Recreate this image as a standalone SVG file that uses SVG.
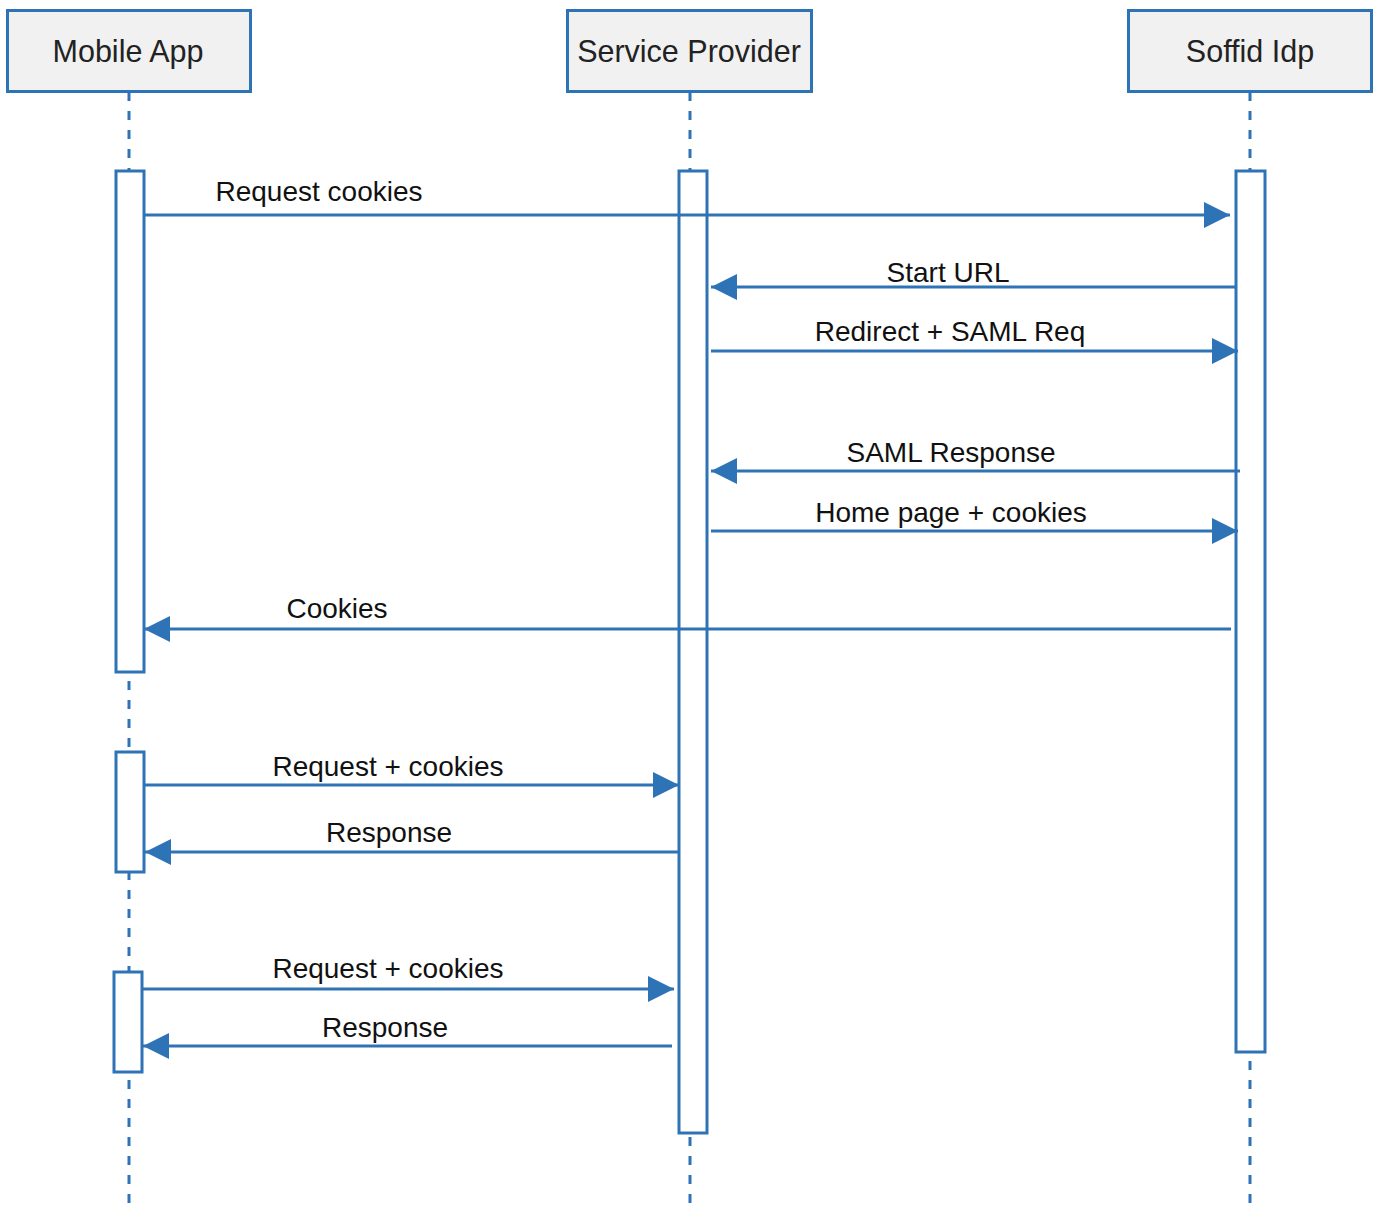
<svg xmlns="http://www.w3.org/2000/svg" width="1377" height="1210" viewBox="0 0 1377 1210">
<style>
.hdr{fill:#f1f1f1;stroke:#2f73b7;stroke-width:3}
.hdrt{font-family:"Liberation Sans",Arial,sans-serif;font-size:30.5px;fill:#222;text-anchor:middle}
.life{stroke:#2f73b7;stroke-width:3;stroke-dasharray:9 10;fill:none}
.act{fill:#fff;stroke:#2f73b7;stroke-width:3}
.msg{stroke:#2f73b7;stroke-width:3;fill:none}
.lbl{font-family:"Liberation Sans",Arial,sans-serif;font-size:28px;fill:#111;text-anchor:middle}
</style>
<defs>
<marker id="ah" markerUnits="userSpaceOnUse" markerWidth="28" markerHeight="26" refX="26" refY="13" orient="auto">
<path d="M0,0 L26,13 L0,26 Z" fill="#2f73b7"/>
</marker>
</defs>
<g id="lifelines">
<line class="life" x1="129" y1="92" x2="129" y2="1210"/>
<line class="life" x1="690" y1="92" x2="690" y2="1210"/>
<line class="life" x1="1250" y1="92" x2="1250" y2="1210"/>
</g>
<g id="mobile-app">
<rect class="hdr" x="7.5" y="10.5" width="243" height="81"/>
<text class="hdrt" x="128" y="62">Mobile App</text>
</g>
<g id="service-provider">
<rect class="hdr" x="567.5" y="10.5" width="244" height="81"/>
<text class="hdrt" x="689" y="62">Service Provider</text>
</g>
<g id="soffid-idp">
<rect class="hdr" x="1128.5" y="10.5" width="243" height="81"/>
<text class="hdrt" x="1250" y="62">Soffid Idp</text>
</g>
<g id="activations">
<rect id="act-mobile-1" class="act" x="116" y="171" width="28" height="501"/>
<rect id="act-mobile-2" class="act" x="116" y="752" width="28" height="120"/>
<rect id="act-mobile-3" class="act" x="114" y="972" width="28" height="100"/>
<rect id="act-sp" class="act" x="679" y="171" width="28" height="962"/>
<rect id="act-idp" class="act" x="1236" y="171" width="29" height="881"/>
</g>
<g id="connectors">
<line class="msg" x1="144" y1="215" x2="1230" y2="215" marker-end="url(#ah)"/>
<line class="msg" x1="1236" y1="287" x2="711" y2="287" marker-end="url(#ah)"/>
<line class="msg" x1="711" y1="351" x2="1238" y2="351" marker-end="url(#ah)"/>
<line class="msg" x1="1240" y1="471" x2="711" y2="471" marker-end="url(#ah)"/>
<line class="msg" x1="711" y1="531" x2="1238" y2="531" marker-end="url(#ah)"/>
<line class="msg" x1="1231" y1="629" x2="144" y2="629" marker-end="url(#ah)"/>
<line class="msg" x1="144" y1="785" x2="679" y2="785" marker-end="url(#ah)"/>
<line class="msg" x1="679" y1="852" x2="145" y2="852" marker-end="url(#ah)"/>
<line class="msg" x1="142" y1="989" x2="674" y2="989" marker-end="url(#ah)"/>
<line class="msg" x1="672" y1="1046" x2="143" y2="1046" marker-end="url(#ah)"/>
</g>
<g id="labels">
<text class="lbl" x="319" y="201">Request cookies</text>
<text class="lbl" x="948" y="282">Start URL</text>
<text class="lbl" x="950" y="341">Redirect + SAML Req</text>
<text class="lbl" x="951" y="462">SAML Response</text>
<text class="lbl" x="951" y="522">Home page + cookies</text>
<text class="lbl" x="337" y="618">Cookies</text>
<text class="lbl" x="388" y="776">Request + cookies</text>
<text class="lbl" x="389" y="842">Response</text>
<text class="lbl" x="388" y="978">Request + cookies</text>
<text class="lbl" x="385" y="1037">Response</text>
</g>
</svg>
